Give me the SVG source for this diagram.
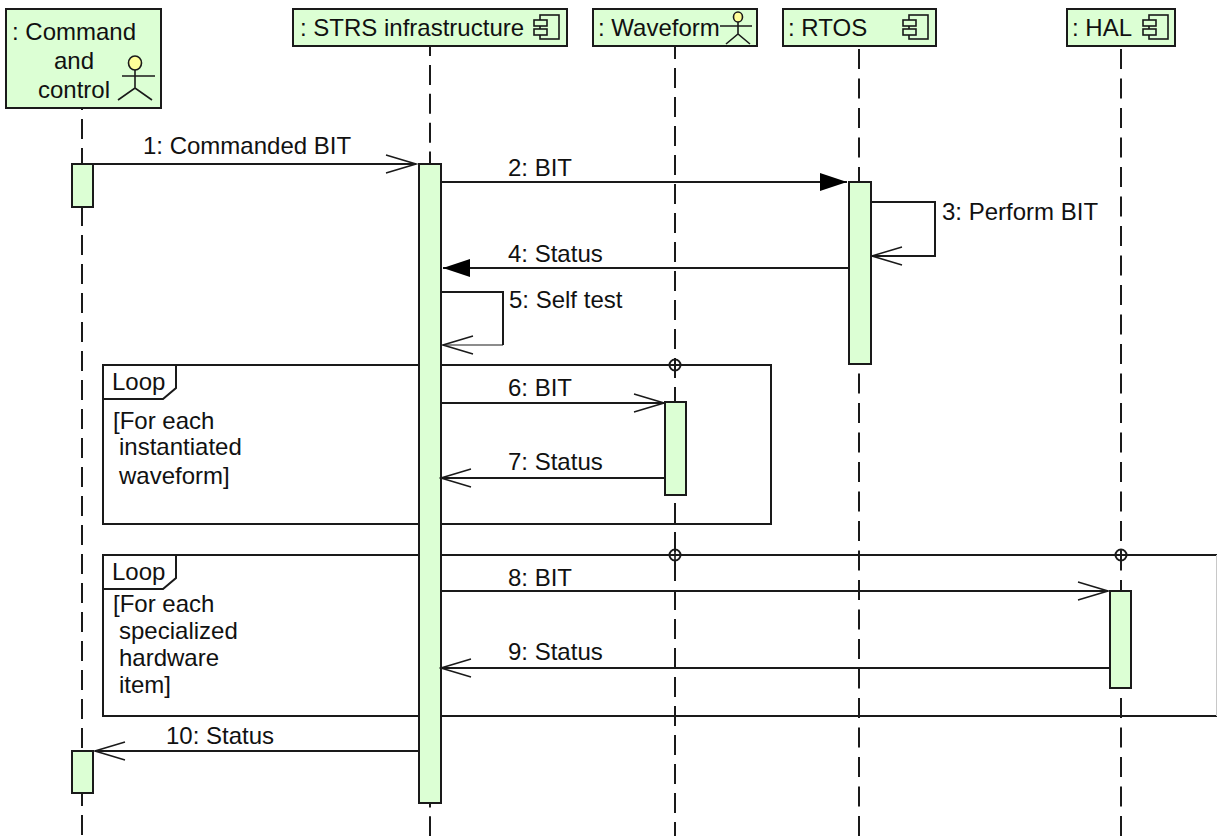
<svg xmlns="http://www.w3.org/2000/svg" width="1217" height="836" viewBox="0 0 1217 836">
<style>
text{font-family:"Liberation Sans",Arial,sans-serif;font-size:24px;fill:#111}
.box{fill:#dcffd4;stroke:#1a1a1a;stroke-width:2}
.act{fill:#dcffd4;stroke:#1a1a1a;stroke-width:2}
.life{fill:none;stroke:#1a1a1a;stroke-width:2;stroke-dasharray:20 9.5}
.msg{fill:none;stroke:#1a1a1a;stroke-width:2}
.open{marker-end:url(#open)}
.solid{marker-end:url(#solid)}
.frame{fill:none;stroke:#1a1a1a;stroke-width:2}
.icon{fill:none;stroke:#1a1a1a;stroke-width:1.6}
.iconf{fill:#dcffd4;stroke:#1a1a1a;stroke-width:1.6}
.head{fill:#ffff99;stroke:#1a1a1a;stroke-width:1.6}
</style>
<defs>
<marker id="open" markerUnits="userSpaceOnUse" markerWidth="34" markerHeight="22" viewBox="0 0 34 22" refX="32" refY="11" orient="auto"><path d="M2,2 L32,11 L2,20" fill="none" stroke="#1a1a1a" stroke-width="1.4"/></marker>
<marker id="solid" markerUnits="userSpaceOnUse" markerWidth="30" markerHeight="20" viewBox="0 0 30 20" refX="28" refY="10" orient="auto"><path d="M1,1 L28,10 L1,19 Z" fill="#000"/></marker>
<g id="comp"><rect class="icon" x="6" y="0" width="19" height="24" style="fill:#dcffd4"/><rect class="iconf" x="0" y="5" width="13" height="6"/><rect class="iconf" x="0" y="14" width="13" height="6"/></g>
<path id="frag" class="frame" d="M0,34 H60 L73,23 V0"/>
<g id="coregion"><circle class="frame" cx="0" cy="0" r="5.5"/><path class="frame" d="M-5.500,0 H5.500 M0,-5.500 V5.500" style="stroke-width:1.6"/></g>
</defs>

<g id="lifelines">
<path class="life" style="stroke-dasharray:20 9" d="M82,90 V836"/>
<path class="life" style="stroke-dasharray:20 8.9" d="M430,36 V836"/>
<path class="life" style="stroke-dasharray:20 9" d="M675,39 V836"/>
<path class="life" d="M859,49 V836"/>
<path class="life" d="M1121,49 V836"/>
</g>

<g id="loop1">
<rect class="frame" x="103" y="365" width="668" height="159"/>
<use href="#frag" x="103" y="365"/>
<text x="112" y="390">Loop</text>
<text x="113" y="429">[For each</text>
<text x="119" y="455">instantiated</text>
<text x="119" y="484">waveform]</text>
<use href="#coregion" x="675" y="365"/>
</g>
<g id="loop2">
<path class="frame" d="M1217,555 H103 V716 H1217"/>
<path d="M1216.500,555 V716" stroke="#c8c8c8" stroke-width="1" fill="none"/>
<use href="#frag" x="103" y="555"/>
<text x="112" y="580">Loop</text>
<text x="113" y="612">[For each</text>
<text x="119" y="639">specialized</text>
<text x="119" y="666">hardware</text>
<text x="119" y="693">item]</text>
<use href="#coregion" x="675" y="555"/>
<use href="#coregion" x="1121" y="555"/>
</g>

<g id="node-cc">
<rect class="box" x="6" y="9" width="155" height="99"/>
<text x="12" y="40">: Command</text>
<text x="54" y="69">and</text>
<text x="38" y="98">control</text>
<ellipse class="head" cx="135" cy="63" rx="6.500" ry="7"/>
<path class="icon" d="M122,76 H155 M135,70 V88 M118,100 L135,88 L152,100"/>
</g>
<g id="node-strs">
<rect class="box" x="293" y="9" width="274" height="37"/>
<text x="300" y="36">: STRS infrastructure</text>
<use href="#comp" x="534" y="15"/>
</g>
<g id="node-waveform">
<rect class="box" x="593" y="9" width="164" height="37"/>
<text x="598" y="36">: Waveform</text>
<ellipse class="head" cx="738" cy="17" rx="4.500" ry="5"/>
<path class="icon" d="M720,26 H752 M738,22 V34 M726,44 L738,34 L750,44"/>
</g>
<g id="node-rtos">
<rect class="box" x="783" y="9" width="153" height="37"/>
<text x="788" y="36">: RTOS</text>
<use href="#comp" x="903" y="15"/>
</g>
<g id="node-hal">
<rect class="box" x="1067" y="9" width="108" height="37"/>
<text x="1072" y="36">: HAL</text>
<use href="#comp" x="1143" y="15"/>
</g>

<g id="activations">
<rect class="act" x="72" y="164" width="21" height="43"/>
<rect class="act" x="419" y="164" width="22" height="639"/>
<rect class="act" x="849" y="182" width="22" height="182"/>
<rect class="act" x="665" y="402" width="21" height="93"/>
<rect class="act" x="1110" y="591" width="21" height="97"/>
<rect class="act" x="72" y="751" width="21" height="42"/>
</g>

<g id="connectors">
<path class="msg open" d="M93,164 H416"/>
<path class="msg solid" d="M441,182 H847"/>
<path class="msg open" d="M872,202 H935 V256 H872"/>
<path class="msg solid" d="M849,268 H443"/>
<path class="msg" d="M441,292 H503 V345"/>
<path class="msg open" style="stroke-width:1.200" d="M503,345 H443"/>
<path class="msg open" d="M441,403 H664"/>
<path class="msg open" d="M665,478 H441"/>
<path class="msg open" d="M441,591 H1108"/>
<path class="msg open" d="M1110,668 H441"/>
<path class="msg open" d="M419,751 H95"/>
</g>

<g id="labels">
<text x="143" y="154">1: Commanded BIT</text>
<text x="508" y="176">2: BIT</text>
<text x="942" y="220">3: Perform BIT</text>
<text x="508" y="262">4: Status</text>
<text x="509" y="308">5: Self test</text>
<text x="508" y="396">6: BIT</text>
<text x="508" y="470">7: Status</text>
<text x="508" y="586">8: BIT</text>
<text x="508" y="660">9: Status</text>
<text x="166" y="744">10: Status</text>
</g>
</svg>
